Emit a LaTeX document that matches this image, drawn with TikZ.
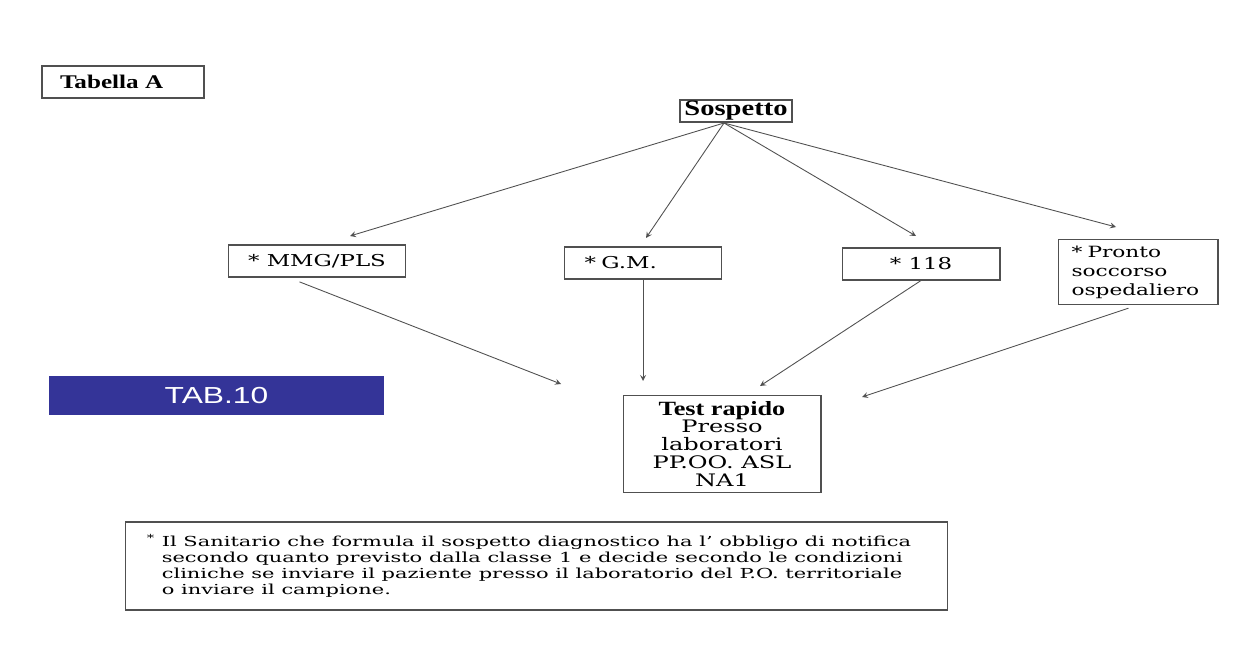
\documentclass[tikz,border=0pt]{standalone}
\usepackage{fontspec}
\setmainfont{DejaVu Serif}[FakeStretch=1.4]
\newfontfamily\headfont{Liberation Serif}[FakeStretch=1.3]
\newfontfamily\notefont{DejaVu Serif}[FakeStretch=1.52]
\newfontfamily\tabfont{Liberation Sans}[FakeStretch=1.37]
\definecolor{tabblue}{RGB}{52,52,152}
\definecolor{linegray}{RGB}{80,80,80}

\begin{document}
\begin{tikzpicture}[x=0.02cm, y=-0.02cm,
	box/.style={draw=linegray, line width=0.6pt, inner sep=0pt, align=center, font=\fontsize{9.3}{11}\selectfont},
	arr/.style={->, >=stealth, draw=linegray, line width=0.5pt}]
	\useasboundingbox (0,0) rectangle (1250,648);

	\node[box, minimum width=3.24cm, minimum height=0.64cm, text width=2.52cm, inner xsep=0.36cm, align=left, font=\headfont\bfseries\fontsize{11}{12}\selectfont] (tab) at (123,82) {Tabella A};
	\node[box, minimum width=2.24cm, minimum height=0.44cm, font=\headfont\bfseries\fontsize{12.5}{14}\selectfont] (sosp) at (736,111) {Sospetto};

	\node[box, minimum width=3.54cm, minimum height=0.64cm] (mmg) at (317,261) {* MMG/PLS};
	\node[box, minimum width=3.14cm, minimum height=0.64cm, text width=2.34cm, inner xsep=0.4cm, align=left] (gm) at (643,263) {* G.M.};
	\node[box, minimum width=3.16cm, minimum height=0.64cm] (c118) at (921,264) {* 118};
	\node[box, minimum width=3.2cm, minimum height=1.3cm, text width=2.66cm, inner xsep=0.27cm, align=left, font=\fontsize{8.8}{10.8}\selectfont] (ps) at (1138,272) {* Pronto\\soccorso\\ospedaliero};

	\node[fill=tabblue, minimum width=6.7cm, minimum height=0.78cm, inner sep=0pt, text=white, font=\tabfont\fontsize{13.2}{14}\selectfont] (tab10) at (216.5,395.5) {TAB.10};

	\node[box, minimum width=3.96cm, minimum height=1.94cm, font=\fontsize{9.8}{10.2}\selectfont] (test) at (722,444) {{\headfont\bfseries\fontsize{11.5}{10.2}\selectfont Test rapido}\\Presso\\laboratori\\PP.OO. ASL\\NA1};

	\node[box, minimum width=16.46cm, minimum height=1.76cm, align=left, font=\notefont\fontsize{7.85}{9.1}\selectfont] (note) at (536.5,566) {\llap{\textsuperscript{*} }Il Sanitario che formula il sospetto diagnostico ha l’ obbligo di notifica\\secondo quanto previsto dalla classe 1 e decide secondo le condizioni\\cliniche se inviare il paziente presso il laboratorio del P.O. territoriale\\o inviare il campione.};

	\coordinate (fork) at (724,123);
	\coordinate (a1) at (350,236);
	\coordinate (a2) at (646,238);
	\coordinate (a3) at (916,236);
	\coordinate (a4) at (1116,227);
	\coordinate (b1) at (561,384);
	\coordinate (b3) at (760,386);
	\coordinate (b4) at (862,397);

	\path (fork) edge[arr] (a1);
	\path (fork) edge[arr] (a2);
	\path (fork) edge[arr] (a3);
	\path (fork) edge[arr] (a4);

	\path (mmg.-150) edge[arr, shorten <=0.24cm] (b1);
	\path (gm.south) edge[arr, shorten >=0.28cm] (test.north -| gm.south);
	\path (c118.south) edge[arr] (b3);
	\path (ps.south) edge[arr, shorten <=0.2cm] (b4);
\end{tikzpicture}
\end{document}
